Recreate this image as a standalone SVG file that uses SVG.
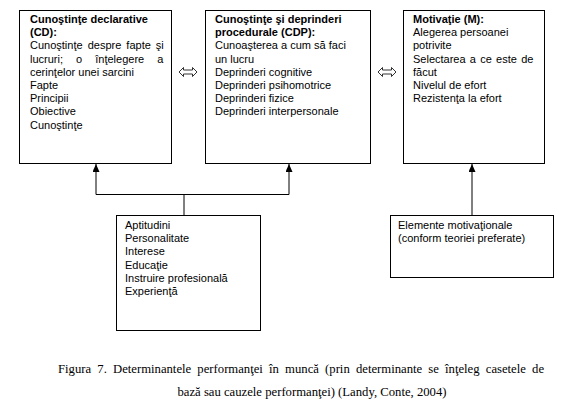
<svg xmlns="http://www.w3.org/2000/svg" width="576" height="409" viewBox="0 0 576 409">
<style>
.box{fill:#fff;stroke:#000;stroke-width:1}
.t{font-family:"Liberation Sans",Arial,sans-serif;font-size:11px;fill:#000}
.b{font-weight:bold}
.cap{font-family:"Liberation Serif","Times New Roman",serif;font-size:12.7px;fill:#000}
.ln{stroke:#000;stroke-width:1;fill:none}
.dbl{fill:#fff;stroke:#000;stroke-width:0.8}
</style>
<defs>
<marker id="ah" markerWidth="8" markerHeight="7" refX="8" refY="3.5" orient="auto" markerUnits="userSpaceOnUse" viewBox="0 0 8 7">
<path d="M0,0 L8,3.5 L0,7 Z" fill="#000"/>
</marker>
</defs>
<rect width="576" height="409" fill="#fff"/>
<g id="connectors">
<path class="ln" d="M96,194.5 H289"/>
<path class="ln" d="M96,194.5 V164" marker-end="url(#ah)"/>
<path class="ln" d="M289,194.5 V164" marker-end="url(#ah)"/>
<path class="ln" d="M184,194.5 V215"/>
<path class="ln" d="M472,215 V164" marker-end="url(#ah)"/>
<path class="dbl" d="M179,72 L183.5,67.5 L183.5,70 L192.5,70 L192.5,67.5 L197,72 L192.5,76.5 L192.5,74 L183.5,74 L183.5,76.5 Z"/>
<path class="dbl" d="M378,72 L382.5,67.5 L382.5,70 L391.5,70 L391.5,67.5 L396,72 L391.5,76.5 L391.5,74 L382.5,74 L382.5,76.5 Z"/>
</g>
<g id="cd">
<rect class="box" x="19.5" y="10.5" width="152" height="153"/>
<text class="t b" x="30" y="23">Cunoştinţe declarative</text>
<text class="t b" x="30" y="36.2">(CD):</text>
<text class="t" x="30" y="49.4" word-spacing="2">Cunoştinţe despre fapte şi</text>
<text class="t" x="30" y="62.6" word-spacing="10">lucruri; o înţelegere a</text>
<text class="t" x="30" y="75.8">cerinţelor unei sarcini</text>
<text class="t" x="30" y="89">Fapte</text>
<text class="t" x="30" y="102.2">Principii</text>
<text class="t" x="30" y="115.4">Obiective</text>
<text class="t" x="30" y="128.6">Cunoştinţe</text>
</g>
<g id="cdp">
<rect class="box" x="205.5" y="10.5" width="165" height="153"/>
<text class="t b" x="215" y="23">Cunoştinţe şi deprinderi</text>
<text class="t b" x="215" y="36.2">procedurale (CDP):</text>
<text class="t" x="215" y="49.4">Cunoaşterea a cum să faci</text>
<text class="t" x="215" y="62.6">un lucru</text>
<text class="t" x="215" y="75.8">Deprinderi cognitive</text>
<text class="t" x="215" y="89">Deprinderi psihomotrice</text>
<text class="t" x="215" y="102.2">Deprinderi fizice</text>
<text class="t" x="215" y="115.4">Deprinderi interpersonale</text>
</g>
<g id="m">
<rect class="box" x="403.5" y="10.5" width="141" height="153"/>
<text class="t b" x="413" y="23">Motivaţie (M):</text>
<text class="t" x="413" y="36.2">Alegerea persoanei</text>
<text class="t" x="413" y="49.4">potrivite</text>
<text class="t" x="413" y="62.6" word-spacing="1.2">Selectarea a ce este de</text>
<text class="t" x="413" y="75.8">făcut</text>
<text class="t" x="413" y="89">Nivelul de efort</text>
<text class="t" x="413" y="102.2">Rezistenţa la efort</text>
</g>
<g id="factors">
<rect class="box" x="116.5" y="215.5" width="144" height="115"/>
<text class="t" x="125" y="229">Aptitudini</text>
<text class="t" x="125" y="242.2">Personalitate</text>
<text class="t" x="125" y="255.4">Interese</text>
<text class="t" x="125" y="268.6">Educaţie</text>
<text class="t" x="125" y="281.8">Instruire profesională</text>
<text class="t" x="125" y="295">Experienţă</text>
</g>
<g id="motiv">
<rect class="box" x="390.5" y="215.5" width="163" height="62"/>
<text class="t" x="398" y="229">Elemente motivaţionale</text>
<text class="t" x="398" y="242.2">(conform teoriei preferate)</text>
</g>
<g id="caption">
<text class="cap" x="58" y="373" word-spacing="3">Figura 7. Determinantele performanţei în muncă (prin determinante se înţeleg casetele de</text>
<text class="cap" x="312" y="396" text-anchor="middle">bază sau cauzele performanţei) (Landy, Conte, 2004)</text>
</g>
</svg>
